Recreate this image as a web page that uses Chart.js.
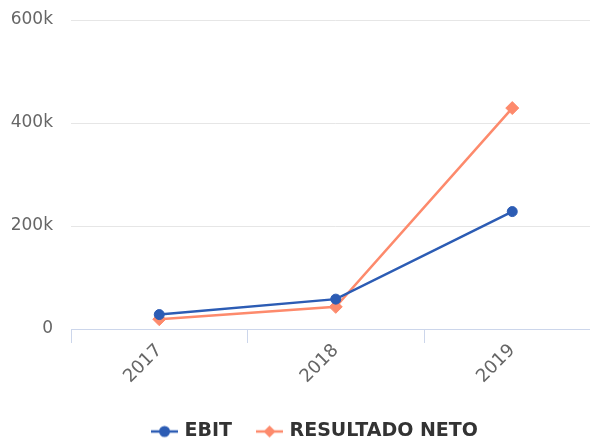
<!DOCTYPE html>
<html>
<head>
<meta charset="utf-8">
<script src="https://cdn.jsdelivr.net/npm/chart.js@4"></script>
<style>
    html, body { margin: 0; padding: 0; overflow: hidden; background: #fff; }
    #wrap { width: 608px; height: 439px; }
</style>
</head>
<body>
<div id="wrap"><canvas id="chart"></canvas></div>
<script>
// Data
const years = ['2017', '2018', '2019'];
const ebit = [28000, 58000, 228000];
const resultadoNeto = [19000, 43000, 429000];
const yTicks = [0, 200000, 400000, 600000];

const blue = '#2c5cb4';
const orange = '#fd8a6c';

// Legend symbol: short line with the marker in the middle
function legendSymbol(color, shape) {
    const c = document.createElement('canvas');
    c.width = 27;
    c.height = 14;
    const g = c.getContext('2d');
    g.strokeStyle = color;
    g.fillStyle = color;
    g.lineWidth = 2.5;
    g.beginPath();
    g.moveTo(0, 7);
    g.lineTo(27, 7);
    g.stroke();
    g.beginPath();
    if (shape === 'circle') {
        g.arc(13.5, 7, 5.5, 0, Math.PI * 2);
    } else {
        g.moveTo(13.5, 1);
        g.lineTo(19.5, 7);
        g.lineTo(13.5, 13);
        g.lineTo(7.5, 7);
        g.closePath();
    }
    g.fill();
    return c;
}
const symbols = [legendSymbol(blue, 'circle'), legendSymbol(orange, 'diamond')];

// nudge legend right and down like the original
const shiftLegend = {
    id: 'shiftLegend',
    afterLayout(chart) {
        chart.legend.left += 12;
        chart.legend.right += 12;
        chart.legend.top += 12;
        chart.legend.bottom += 12;
    }
};

const ctx = document.getElementById('chart').getContext('2d');
new Chart(ctx, {
    type: 'line',
    data: {
        labels: years,
        datasets: [{
            label: 'EBIT',
            data: ebit,
            borderColor: blue,
            backgroundColor: blue,
            borderWidth: 2.5,
            pointStyle: 'circle',
            pointRadius: 5,
            pointHoverRadius: 5,
            pointBorderWidth: 1,
            fill: false
        }, {
            label: 'RESULTADO NETO',
            data: resultadoNeto,
            borderColor: orange,
            backgroundColor: orange,
            borderWidth: 2.5,
            pointStyle: 'rectRot',
            pointRadius: 6.5,
            pointHoverRadius: 6.5,
            pointBorderWidth: 1,
            fill: false
        }]
    },
    options: {
        responsive: true,
        maintainAspectRatio: false,
        animation: false,
        layout: { padding: { top: 20, right: 0, left: 0, bottom: 0 } },
        scales: {
            x: {
                offset: true,
                grid: {
                    offset: true,
                    drawOnChartArea: false,
                    drawTicks: true,
                    tickLength: 14,
                    color: '#ccd6eb'
                },
                border: { color: '#ccd6eb', width: 1 },
                ticks: {
                    minRotation: 45,
                    maxRotation: 45,
                    padding: -3,
                    color: '#666',
                    font: { family: 'DejaVu Sans', size: 18 }
                },
                afterFit(scale) {
                    scale.height = 54;
                    scale.paddingLeft = 0;
                    scale.paddingRight = 0;
                }
            },
            y: {
                min: 0,
                max: 600000,
                afterBuildTicks(scale) {
                    scale.ticks = yTicks.map(v => ({ value: v }));
                },
                grid: {
                    drawTicks: false,
                    color: c => c.tick && c.tick.value === 0 ? 'rgba(0,0,0,0)' : '#e6e6e6'
                },
                border: { display: false },
                ticks: {
                    padding: 18,
                    color: '#666',
                    font: { family: 'DejaVu Sans', size: 17 },
                    callback: v => v === 0 ? '0' : (v / 1000) + 'k'
                },
                afterFit(scale) {
                    scale.width = 71;
                    scale.paddingTop = 0;
                    scale.paddingBottom = 0;
                }
            }
        },
        plugins: {
            tooltip: { enabled: false },
            legend: {
                position: 'bottom',
                labels: {
                    usePointStyle: true,
                    pointStyleWidth: 21,
                    padding: 27,
                    color: '#333',
                    font: { family: 'DejaVu Sans', size: 19, weight: 'bold' },
                    generateLabels(chart) {
                        const items = Chart.defaults.plugins.legend.labels.generateLabels(chart);
                        items.forEach((it, i) => { it.pointStyle = symbols[i]; });
                        return items;
                    }
                }
            }
        }
    },
    plugins: [shiftLegend]
});
</script>
</body>
</html>
